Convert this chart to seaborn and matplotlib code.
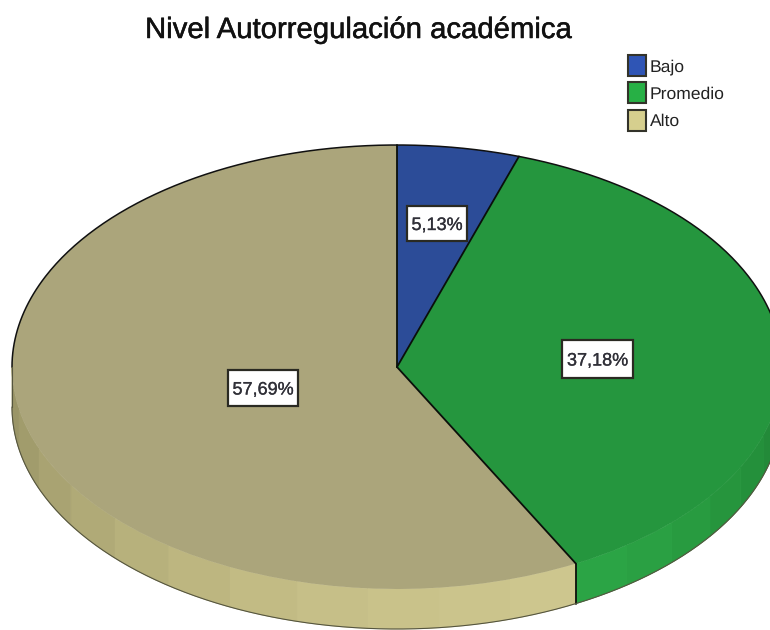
import numpy as np
import matplotlib
matplotlib.use("Agg")
import matplotlib.pyplot as plt
import matplotlib.patheffects as pe
from matplotlib.patches import Patch, Rectangle
import seaborn as sns

categories = ["Bajo", "Promedio", "Alto"]
percentages = [5.13, 37.18, 57.69]
top_colors = ["#2C4C98", "#25963E", "#ABA57B"]
legend_colors = ["#2F55B5", "#27B045", "#D6CF8E"]
rim_green = ["#218437", "#238A39", "#24903B", "#26953D", "#289B40", "#2AA043", "#2BA445"]
rim_tan = ["#CDC68E", "#CBC48C", "#C9C28A", "#C6BF88", "#C2BB84", "#BDB680", "#B7B17C",
           "#B0AA77", "#A9A372", "#A19C6C", "#9A9567"]
title = "Nivel Autorregulación académica"

W, H = 770, 630
CX, CY, RX, RY, DEPTH = 397, 367, 385, 222, 40

sns.set_theme(style="white")
plt.rcParams["font.family"] = ["Liberation Sans", "DejaVu Sans"]
plt.rcParams["text.hinting"] = "none"

fig = plt.figure(figsize=(W / 100, H / 100), dpi=100, facecolor="white")
ax = fig.add_axes([0, 0, 1, 1])


def px(x, y):
    return (x - CX) / RX, (CY - y) / RY


d = DEPTH / RY
boundaries = np.cumsum([0] + percentages) * 3.6  # clockwise from the top, degrees


def rim_band(a0, a1, color):
    t = np.radians(np.linspace(a0, a1, 30))
    xs = np.sin(t)
    ys = np.cos(t)
    ax.fill(np.r_[xs, xs[::-1]], np.r_[ys, ys[::-1] - d], color=color, lw=0.6, zorder=1)


# side of the disc: only the front half (90 deg to 270 deg clockwise from the top)
for shades, a0, a1 in [(rim_green, 90, boundaries[2]), (rim_tan, boundaries[2], 270)]:
    edges = np.linspace(a0, a1, len(shades) + 1)
    for c, e0, e1 in zip(shades, edges[:-1], edges[1:]):
        rim_band(e0, e1, c)

# top surface
ax.pie(percentages, colors=top_colors, startangle=90, counterclock=False, radius=1,
       wedgeprops={"linewidth": 0}, frame=False)
for w in ax.patches:
    if hasattr(w, "theta1"):
        w.set_zorder(2)

ax.set_aspect("auto")
ax.set_xlim(px(0, 0)[0], px(W, 0)[0])
ax.set_ylim(px(0, H)[1], px(0, 0)[1])
ax.axis("off")

# outlines
t = np.radians(np.linspace(-90, 90, 300))
ax.plot(np.sin(t), np.cos(t), color="#101010", lw=1.1, zorder=3)
for b in boundaries[:3]:
    a = np.radians(b)
    ax.plot([0, np.sin(a)], [0, np.cos(a)], color="#0A0F0A", lw=1.3, zorder=3)
a = np.radians(boundaries[2])
ax.plot([np.sin(a)] * 2, [np.cos(a), np.cos(a) - d], color="#0A0F0A", lw=1.3, zorder=3)
t = np.radians(np.linspace(90, 270, 300))
ax.plot(np.sin(t), np.cos(t) - d, color="#55553F", lw=0.8, zorder=3)
for side in (90, 270):
    a = np.radians(side)
    ax.plot([np.sin(a)] * 2, [0, -d], color="#55553F", lw=0.8, zorder=3)

# value labels: pixel boxes (left, top, right, bottom)
label_boxes = [(407, 206, 467, 241), (562, 340, 633, 378), (228, 370, 298, 406)]
for v, (x0, y0, x1, y1) in zip(percentages, label_boxes):
    lx0, ly0 = px(x0, y1)
    lx1, ly1 = px(x1, y0)
    ax.add_patch(Rectangle((lx0, ly0), lx1 - lx0, ly1 - ly0, fc="white", ec="#2A2A22",
                           lw=1.6, zorder=4))
    ax.text((lx0 + lx1) / 2, (ly0 + ly1) / 2, f"{v:.2f}".replace(".", ",") + "%",
            ha="center", va="center_baseline", fontsize=13, color="#303038", zorder=5,
            path_effects=[pe.withStroke(linewidth=0.2, foreground="#303038")])

# title and legend
fig.text(358 / W, 1 - 38 / H, title, ha="center", va="baseline", fontsize=21.1,
         color="#111111", path_effects=[pe.withStroke(linewidth=0.35, foreground="#111111")])
handles = [Patch(facecolor=c, edgecolor="#33332A", linewidth=1.5, label=n)
           for c, n in zip(legend_colors, categories)]
fig.legend(handles=handles, loc="upper left", bbox_to_anchor=(628 / W, 1 - 55 / H),
           frameon=False, fontsize=12.6, borderpad=0, borderaxespad=0,
           handlelength=1.0, handleheight=1.47, handletextpad=0.25, labelspacing=0.37,
           labelcolor="#222222")

fig.savefig("out.png", dpi=100, facecolor="white")
